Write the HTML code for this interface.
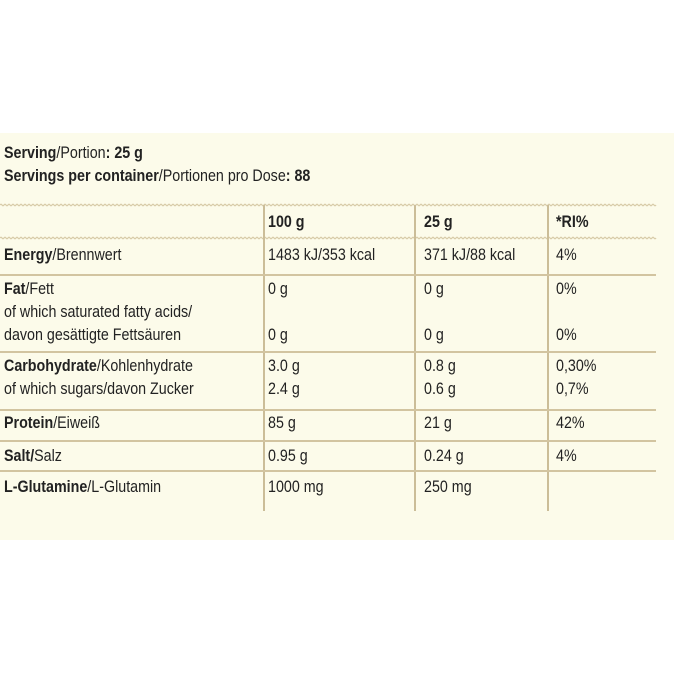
<!DOCTYPE html>
<html><head><meta charset="utf-8"><style>
body{margin:0;width:674px;height:674px;background:#fff;position:relative;overflow:hidden;font-family:"Liberation Sans Narrow","Liberation Sans",sans-serif;color:#222}
#panel{position:absolute;left:0;top:133px;width:674px;height:407px;background:#fcfbea}
.t{position:absolute;font-size:17px;white-space:nowrap;transform:scaleX(0.84);transform-origin:0 0;line-height:20px}
b{font-weight:bold}
.h{position:absolute;left:0;width:656px;height:2px;background:#d2c4a0}
.v{position:absolute;top:205px;height:306px;width:1.5px;background:#cbbd98}
</style></head><body>
<div id="panel"></div>
<div class="t" style="left:4px;top:143px"><b>Serving</b>/Portion<b>: 25 g</b></div>
<div class="t" style="left:4px;top:166px"><b>Servings per container</b>/Portionen pro Dose<b>: 88</b></div>
<svg style="position:absolute;left:0;top:200px" width="660" height="45">
<path id="w" d="" fill="none" stroke="#d8cba8" stroke-width="1.2"/>
<path id="w2" d="" fill="none" stroke="#d8cba8" stroke-width="1.2"/>
</svg>
<script>
function wave(y){let d='M0 '+y;for(let x=0;x<656;x+=4){d+=' Q'+(x+1)+' '+(y-1.5)+' '+(x+2)+' '+y+' T'+(x+4)+' '+y;}return d;}
document.getElementById('w').setAttribute('d',wave(5));
document.getElementById('w2').setAttribute('d',wave(38));
</script>
<div class="v" style="left:263px"></div>
<div class="v" style="left:414px"></div>
<div class="v" style="left:547px"></div>
<div class="h" style="top:274px"></div>
<div class="h" style="top:351px"></div>
<div class="h" style="top:409px"></div>
<div class="h" style="top:440px"></div>
<div class="h" style="top:470px"></div>

<div class="t" style="left:268px;top:212px"><b>100 g</b></div>
<div class="t" style="left:424px;top:212px"><b>25 g</b></div>
<div class="t" style="left:556px;top:212px"><b>*RI%</b></div>

<div class="t" style="left:4px;top:245px"><b>Energy</b>/Brennwert</div>
<div class="t" style="left:268px;top:245px">1483 kJ/353 kcal</div>
<div class="t" style="left:424px;top:245px">371 kJ/88 kcal</div>
<div class="t" style="left:556px;top:245px">4%</div>

<div class="t" style="left:4px;top:279px"><b>Fat</b>/Fett</div>
<div class="t" style="left:268px;top:279px">0 g</div>
<div class="t" style="left:424px;top:279px">0 g</div>
<div class="t" style="left:556px;top:279px">0%</div>
<div class="t" style="left:4px;top:302px">of which saturated fatty acids/</div>
<div class="t" style="left:4px;top:325px">davon gesättigte Fettsäuren</div>
<div class="t" style="left:268px;top:325px">0 g</div>
<div class="t" style="left:424px;top:325px">0 g</div>
<div class="t" style="left:556px;top:325px">0%</div>

<div class="t" style="left:4px;top:356px"><b>Carbohydrate</b>/Kohlenhydrate</div>
<div class="t" style="left:268px;top:356px">3.0 g</div>
<div class="t" style="left:424px;top:356px">0.8 g</div>
<div class="t" style="left:556px;top:356px">0,30%</div>
<div class="t" style="left:4px;top:379px">of which sugars/davon Zucker</div>
<div class="t" style="left:268px;top:379px">2.4 g</div>
<div class="t" style="left:424px;top:379px">0.6 g</div>
<div class="t" style="left:556px;top:379px">0,7%</div>

<div class="t" style="left:4px;top:413px"><b>Protein</b>/Eiweiß</div>
<div class="t" style="left:268px;top:413px">85 g</div>
<div class="t" style="left:424px;top:413px">21 g</div>
<div class="t" style="left:556px;top:413px">42%</div>

<div class="t" style="left:4px;top:446px"><b>Salt/</b>Salz</div>
<div class="t" style="left:268px;top:446px">0.95 g</div>
<div class="t" style="left:424px;top:446px">0.24 g</div>
<div class="t" style="left:556px;top:446px">4%</div>

<div class="t" style="left:4px;top:477px"><b>L-Glutamine</b>/L-Glutamin</div>
<div class="t" style="left:268px;top:477px">1000 mg</div>
<div class="t" style="left:424px;top:477px">250 mg</div>
</body></html>
